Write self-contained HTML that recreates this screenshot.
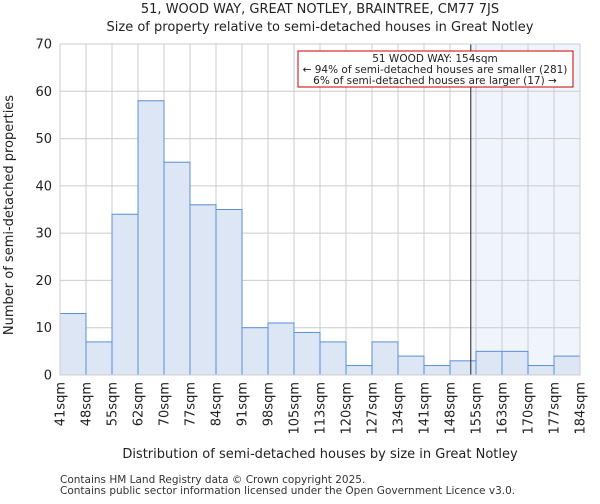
<!DOCTYPE html>
<html><head><meta charset="utf-8"><style>
body{margin:0;background:#fff;font-family:"DejaVu Sans","Liberation Sans",sans-serif}
</style></head><body>
<svg id="c" width="600" height="500" xmlns="http://www.w3.org/2000/svg" font-family="DejaVu Sans, Liberation Sans, sans-serif"></svg>
<script>
const categories=["41sqm","48sqm","55sqm","62sqm","70sqm","77sqm","84sqm","91sqm","98sqm","105sqm","113sqm","120sqm","127sqm","134sqm","141sqm","148sqm","155sqm","163sqm","170sqm","177sqm","184sqm"];
const counts=[13,7,34,58,45,36,35,10,11,9,7,2,7,4,2,3,5,5,2,4];
const yTicks=[0,10,20,30,40,50,60,70];
const markerIndex=15.8;
const L=60,R=580,T=44,B=375,yMax=70;
const n=counts.length,bw=(R-L)/n;
const x=i=>L+i*bw, y=v=>B-(v/yMax)*(B-T);
const s=document.getElementById('c'),NS="http://www.w3.org/2000/svg";
function mk(t,a,txt){const e=document.createElementNS(NS,t);for(const k in a)e.setAttribute(k,a[k]);if(txt!=null)e.textContent=txt;s.appendChild(e);return e;}
const hl=mk('rect',{x:x(markerIndex),y:T,width:R-x(markerIndex),height:B-T,fill:'#f0f4fc'});


for(let i=0;i<=n;i++){const g=mk('line',{x1:x(i),x2:x(i),y1:T,y2:B,stroke:'#cccccc','stroke-width':1});

}
yTicks.forEach(v=>{const g=mk('line',{x1:L,x2:R,y1:y(v),y2:y(v),stroke:'#cccccc','stroke-width':1});


const t=mk('text',{x:L-8,y:y(v)+4.5,'text-anchor':'end','font-size':13,fill:'#222'},v);

});
counts.forEach((v,i)=>{const b=mk('rect',{x:x(i),y:y(v),width:bw,height:B-y(v),fill:'#dce6f5',stroke:'#5b8fd6','stroke-width':1});

});
categories.forEach((c,i)=>{const t=mk('text',{transform:`translate(${x(i)+4.5},382) rotate(-90)`,'text-anchor':'end','font-size':13,fill:'#222'},c);

});
const ml=mk('line',{x1:x(markerIndex),x2:x(markerIndex),y1:T,y2:B,stroke:'#222','stroke-width':1});


const ab=mk('rect',{x:298,y:51,width:275,height:36,fill:'#fff',stroke:'#cc0000','stroke-width':1});


[["51 WOOD WAY: 154sqm",62],["← 94% of semi-detached houses are smaller (281)",73],["6% of semi-detached houses are larger (17) →",84]].forEach(([t,yy])=>{const e=mk('text',{x:435,y:yy,'text-anchor':'middle','font-size':10.5,fill:'#222'},t);

});
const ax=mk('rect',{x:L,y:T,width:R-L,height:B-T,fill:'none',stroke:'#cccccc'});


const t1=mk('text',{x:320,y:13,'text-anchor':'middle','font-size':13,fill:'#222'},"51, WOOD WAY, GREAT NOTLEY, BRAINTREE, CM77 7JS");


const t2=mk('text',{x:320,y:31,'text-anchor':'middle','font-size':13,fill:'#222'},"Size of property relative to semi-detached houses in Great Notley");


const xt=mk('text',{x:320,y:458,'text-anchor':'middle','font-size':13,fill:'#222'},"Distribution of semi-detached houses by size in Great Notley");


const yt=mk('text',{transform:'translate(13,215) rotate(-90)','text-anchor':'middle','font-size':13,fill:'#222'},"Number of semi-detached properties");


const f1=mk('text',{x:60,y:483,'font-size':10.5,fill:'#333'},"Contains HM Land Registry data © Crown copyright 2025.");


const f2=mk('text',{x:60,y:494,'font-size':10.5,fill:'#333'},"Contains public sector information licensed under the Open Government Licence v3.0.");


</script>
</body></html>
